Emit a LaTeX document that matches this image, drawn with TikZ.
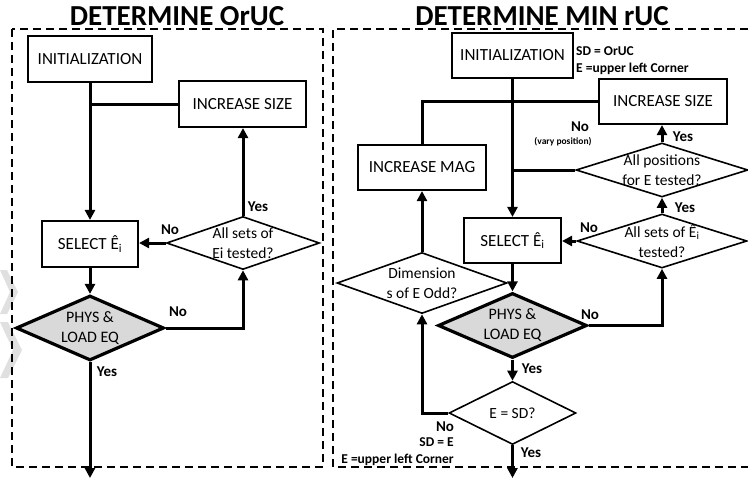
\documentclass[tikz,border=0pt]{standalone}
\usepackage{fontspec}
\setmainfont{Carlito}
\usetikzlibrary{shapes.geometric,arrows.meta}
\begin{document}
\begin{tikzpicture}[x=1pt,y=-1pt,
  box/.style={draw,line width=2.1pt,inner sep=0pt,font=\fontsize{17}{20}\selectfont},
  dia/.style={draw,diamond,line width=1.6pt,inner sep=0pt},
  phys/.style={dia,fill=black!15,line width=3.2pt},
  dtxt/.style={align=center,inner sep=0pt,font=\fontsize{15.5}{20}\selectfont},
  ptxt/.style={align=center,inner sep=0pt,font=\fontsize{16}{20}\selectfont},
  conn/.style={line width=3pt},
  arr/.style={conn,-{Triangle[length=10pt,width=10pt]}},
  lbl/.style={font=\bfseries\fontsize{15}{18}\selectfont,inner sep=0pt},
  notetxt/.style={font=\bfseries\fontsize{13.5}{16}\selectfont,inner sep=0pt},
  vtxt/.style={font=\bfseries\fontsize{9.5}{11}\selectfont,inner sep=0pt},
  ttl/.style={font=\bfseries\fontsize{29}{34}\selectfont,inner sep=0pt},
  dframe/.style={line width=2pt,dash pattern=on 8pt off 5pt},
  wmark/.style={fill=black!12,draw=none}
]
\useasboundingbox (0,0) rectangle (748,479);
% faint watermark fragments
\fill[wmark] (0,270) -- (7,270) -- (18,292) -- (7,314) -- (0,314) -- (10,292) -- cycle;
\fill[wmark] (0,322) -- (8,322) -- (22,350) -- (8,378) -- (0,378) -- (13,350) -- cycle;
% frames
\draw[dframe] (12,29) rectangle (323,467);
\draw[dframe] (748,29) -- (333,29) -- (333,467) -- (748,467);
% titles
\node[ttl] (t1) at (177,16) {DETERMINE OrUC};
\node[ttl] (t2) at (542,16) {DETERMINE MIN rUC};

% ---------------- left column
\node[box,minimum width=124pt,minimum height=46pt] (i1) at (90,59) {INITIALIZATION};
\node[box,minimum width=127pt,minimum height=46pt] (z1) at (242.5,104) {INCREASE SIZE};
\node[box,minimum width=96pt,minimum height=46pt] (s1) at (90,244) {SELECT Ê\textsubscript{i}};
\node[dia,minimum width=153pt,minimum height=53pt] (q1) at (243,243) {};
\node[dtxt] (q1t) at (q1) {All sets of\\Ei tested?};
\node[phys,minimum width=148pt,minimum height=65pt] (p1) at (90,328) {};
\node[ptxt] (p1t) at (p1) {PHYS \&\\LOAD EQ};
\coordinate (end1) at (90,478);

\draw[arr] (i1.south) -- (s1.north);
\draw[conn] (z1.west) -- (z1.west -| i1.south);
\draw[arr] (q1.west) -- (q1.west -| s1.east);
\draw[arr] (q1.north) -- (q1.north |- z1.south);
\draw[arr] (s1.south) -- (p1.north);
\draw[arr] (p1.east) -| (q1.south);
\draw[arr] (p1.south) -- (end1);

\node[lbl] (l1) at (170,230) {No};
\node[lbl] (l2) at (258,207) {Yes};
\node[lbl] (l3) at (178,312) {No};
\node[lbl] (l4) at (107,372) {Yes};

% ---------------- right column
\node[box,minimum width=121pt,minimum height=45pt] (i2) at (512.5,55.5) {INITIALIZATION};
\node[box,minimum width=128pt,minimum height=45pt] (z2) at (663,101.5) {INCREASE SIZE};
\node[box,minimum width=128pt,minimum height=45pt] (m2) at (422,167.5) {INCREASE MAG};
\node[dia,minimum width=172pt,minimum height=54pt] (q2) at (662,170) {};
\node[dtxt] (q2t) at (q2) {All positions\\for E tested?};
\node[dia,minimum width=170pt,minimum height=54pt] (q3) at (662,241) {};
\node[dtxt] (q3t) at (q3) {All sets of Ê\textsubscript{i}\\tested?};
\node[box,minimum width=97pt,minimum height=45pt] (s2) at (512.5,240.5) {SELECT Ê\textsubscript{i}};
\node[dia,minimum width=170pt,minimum height=61pt] (d2) at (422,283) {};
\node[dtxt] (d2t) at (d2) {Dimension\\s of E Odd?};
\node[phys,minimum width=149pt,minimum height=65pt] (p2) at (512.5,325.5) {};
\node[ptxt] (p2t) at (p2) {PHYS \&\\LOAD EQ};
\node[dia,minimum width=127pt,minimum height=63pt] (e2) at (512.5,413) {};
\node[dtxt] (e2t) at (e2) {E = SD?};
\coordinate (end2) at (512.5,478);

\draw[arr] (i2.south) -- (s2.north);
\draw[conn] (z2.west) -| (m2.north);
\draw[arr] (q2.north) -- (q2.north |- z2.south);
\draw[conn] (q2.west) -- (q2.west -| i2.south);
\draw[arr] (q3.north) -- (q2.south);
\draw[arr] (q3.west) -- (q3.west -| s2.east);
\draw[arr] (d2.north) -- (m2.south);
\draw[arr] (s2.south) -- (p2.north);
\draw[arr] (p2.east) -| (q3.south);
\draw[arr] (p2.south) -- (e2.north);
\draw[arr] (e2.west) -| (d2.south);
\draw[arr] (e2.south) -- (end2);

\node[notetxt,anchor=base west] (n1) at (576,56) {SD = OrUC};
\node[notetxt,anchor=base west] (n2) at (576,72) {E =upper left Corner};
\node[lbl] (r1) at (580,127) {No};
\node[vtxt] (r2) at (563,142) {(vary position)};
\node[lbl] (r3) at (683,137) {Yes};
\node[lbl] (r4) at (685,208) {Yes};
\node[lbl] (r5) at (589,228) {No};
\node[lbl] (r6) at (590,315) {No};
\node[lbl] (r7) at (532,369) {Yes};
\node[lbl] (r8) at (445,427) {No};
\node[notetxt,anchor=base east] (n3) at (454,446) {SD = E};
\node[notetxt,anchor=base east] (n4) at (454,463) {E =upper left Corner};
\node[lbl] (r9) at (531,453) {Yes};
\end{tikzpicture}
\end{document}
